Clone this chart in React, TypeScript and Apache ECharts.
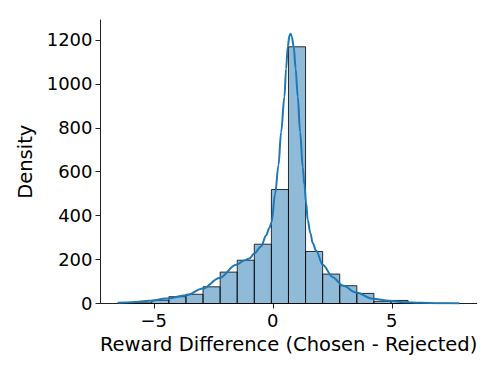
import React, { useEffect, useRef } from "react";
import * as echarts from "echarts";

const binEdges = [-6.52, -5.802, -5.084, -4.366, -3.648, -2.93, -2.212, -1.494, -0.776, -0.058, 0.66, 1.378, 2.096, 2.814, 3.532, 4.25, 4.968, 5.686, 6.404, 7.122, 7.84];
const binCounts = [1, 3, 15, 31, 42, 76, 143, 197, 270, 519, 1169, 237, 134, 81, 46, 10, 14, 2, 1, 1];

const kdeX = [-6.52, -5.9, -5.18, -4.48, -3.64, -2.94, -2.24, -1.54, -1.2, -0.98, -0.78, -0.49, -0.28, -0.14, -0.05, 0.1, 0.24, 0.35, 0.49, 0.56, 0.63, 0.7, 0.745, 0.8, 0.88, 0.96, 1.05, 1.15, 1.26, 1.33, 1.4, 1.47, 1.58, 1.68, 1.82, 2.1, 2.52, 2.94, 3.5, 4.2, 4.9, 5.5, 6.2, 7.0, 7.84];
const kdeY = [3, 6, 12, 23, 37, 68, 116, 176, 196, 205, 228, 260, 310, 345, 370, 500, 630, 780, 941, 1070, 1169, 1220, 1228, 1215, 1169, 1070, 941, 780, 620, 540, 460, 380, 320, 275, 240, 177, 120, 82, 50, 22, 12, 6, 3, 1, 0.5];

const xTicks = [-5, 0, 5];
const yTicks = [0, 200, 400, 600, 800, 1000, 1200];

const FONT = "DejaVu Sans";

export default function App() {
  const ref = useRef<HTMLDivElement>(null);
  useEffect(() => {
    if (!ref.current) return;
    const chart = echarts.init(ref.current, null, { renderer: "svg" });
    const barData = binCounts.map((c, i) => [binEdges[i], binEdges[i + 1], c]);
    const lineData = kdeX.map((x, i) => [x, kdeY[i]]);
    chart.setOption({
      animation: false,
      backgroundColor: "#ffffff",
      grid: { left: 100.5, right: 21.3, top: 20, bottom: 70.5, containLabel: false },
      xAxis: {
        type: "value",
        min: -7.24,
        max: 8.57,
        name: "Reward Difference (Chosen - Rejected)",
        nameLocation: "middle",
        nameGap: 30,
        nameTextStyle: { fontFamily: FONT, fontSize: 19.5, color: "#000" },
        splitLine: { show: false },
        axisLine: { show: true, onZero: false, lineStyle: { color: "#222", width: 1 } },
        axisTick: { show: true, length: 5, customValues: xTicks, lineStyle: { color: "#222", width: 1 } },
        axisLabel: {
          customValues: xTicks,
          margin: 8,
          fontFamily: FONT,
          fontSize: 18,
          color: "#000",
          formatter: (v: number) => String(v).replace("-", "\u2212"),
        },
      },
      yAxis: {
        type: "value",
        min: 0,
        max: 1291,
        name: "Density",
        nameLocation: "middle",
        nameGap: 47,
        nameTextStyle: { fontFamily: FONT, fontSize: 19.5, color: "#000" },
        splitLine: { show: false },
        axisLine: { show: true, onZero: false, lineStyle: { color: "#222", width: 1 } },
        axisTick: { show: true, length: 5, customValues: yTicks, lineStyle: { color: "#222", width: 1 } },
        axisLabel: {
          customValues: yTicks,
          margin: 8,
          fontFamily: FONT,
          fontSize: 18,
          color: "#000",
          formatter: (v: number) => String(v),
        },
      },
      series: [
        {
          type: "custom",
          data: barData,
          encode: { x: [0, 1], y: 2 },
          z: 2,
          renderItem: (params: any, api: any) => {
            const x0 = api.value(0);
            const x1 = api.value(1);
            const c = api.value(2);
            const p0 = api.coord([x0, c]);
            const p1 = api.coord([x1, 0]);
            return {
              type: "rect",
              shape: { x: p0[0], y: p0[1], width: p1[0] - p0[0], height: p1[1] - p0[1] },
              style: { fill: "rgba(31,119,180,0.5)", stroke: "rgba(0,0,0,0.8)", lineWidth: 1 },
            };
          },
        },
        {
          type: "line",
          data: lineData,
          z: 3,
          showSymbol: false,
          symbol: "none",
          smooth: 0.35,
          smoothMonotone: "x",
          lineStyle: { color: "#1f77b4", width: 2 },
        },
      ],
    });
    return () => chart.dispose();
  }, []);
  return <div ref={ref} style={{ position: "fixed", left: 0, top: 0, width: 498, height: 374 }} />;
}
